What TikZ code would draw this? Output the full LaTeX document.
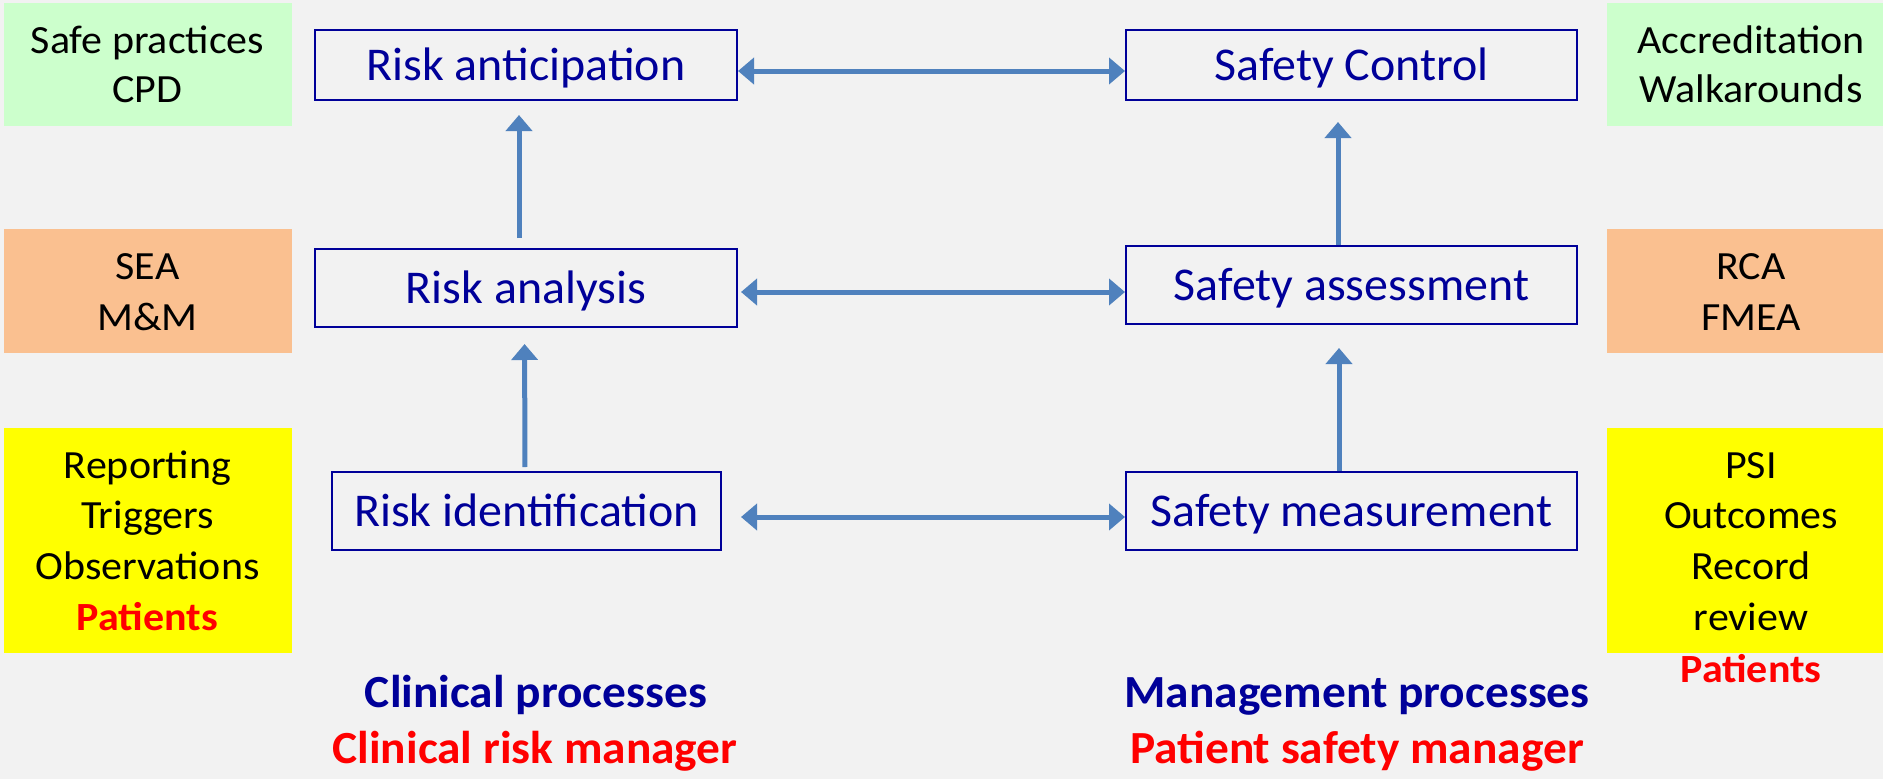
\documentclass[tikz,border=0pt]{standalone}
\usepackage{fontspec}
\setmainfont{Carlito}
\newfontfamily\sidefont[FakeStretch=1.05]{Carlito}
\newfontfamily\stagefont[FakeStretch=1.02]{Carlito}
\newfontfamily\rolefont[FakeStretch=1.03]{Carlito}
\usetikzlibrary{arrows.meta}

\definecolor{pagebg}{HTML}{F2F2F2}
\definecolor{navy}{HTML}{000099}
\definecolor{arrowblue}{HTML}{4F81BD}
\definecolor{mint}{HTML}{CCFFCC}
\definecolor{peach}{HTML}{FAC090}
\definecolor{lemon}{HTML}{FFFF00}
\definecolor{alert}{HTML}{FF0000}

\tikzset{
  stagebox/.style={draw=navy, line width=2pt, text=navy, inner sep=0pt,
    font=\stagefont\fontsize{47}{56}\selectfont, text height=36pt, text depth=6pt},
  sidebox/.style={inner sep=0pt, minimum width=288pt},
  sidetext/.style={anchor=base, inner sep=0pt, font=\sidefont\fontsize{40}{48}\selectfont},
  patients/.style={sidetext, text=alert, font=\sidefont\fontsize{40}{48}\selectfont\bfseries},
  rolehead/.style={anchor=base, inner sep=0pt, text=navy, font=\rolefont\fontsize{46}{55}\selectfont\bfseries},
  rolename/.style={anchor=base, inner sep=0pt, text=alert, font=\rolefont\fontsize{46}{55}\selectfont\bfseries},
  flow/.style={draw=arrowblue, line width=5pt, -{Triangle[length=16pt, width=26pt]}},
  link/.style={draw=arrowblue, line width=5pt, {Triangle[length=16pt, width=26pt]}-{Triangle[length=16pt, width=26pt]}},
}

\begin{document}
\begin{tikzpicture}[x=1pt, y=-1pt]
  \useasboundingbox (0,0) rectangle (1883,779);
  \fill[pagebg] (0,0) rectangle (1883,779);

  % coloured method panels
  \node[sidebox, fill=mint,  minimum height=123pt] (gl) at (147.5,64) {};
  \node[sidebox, fill=peach, minimum height=124pt] (ol) at (147.5,291) {};
  \node[sidebox, fill=lemon, minimum height=225pt] (yl) at (147.5,540.5) {};
  \node[sidebox, fill=mint,  minimum height=123pt] (gr) at (1751,64) {};
  \node[sidebox, fill=peach, minimum height=124pt] (or) at (1751,291) {};
  \node[sidebox, fill=lemon, minimum height=225pt] (yr) at (1751,540.5) {};

  % panel texts
  \node[sidetext] (gl1) at (147.5,53)  {Safe practices};
  \node[sidetext] (gl2) at (147.5,102) {CPD};
  \node[sidetext] (ol1) at (147.5,279) {SEA};
  \node[sidetext] (ol2) at (147.5,330) {M\&M};
  \node[sidetext] (yl1) at (147.5,478) {Reporting};
  \node[sidetext] (yl2) at (147.5,528) {Triggers};
  \node[sidetext] (yl3) at (147.5,579) {Observations};
  \node[patients] (yl4) at (147.5,630) {Patients};

  \node[sidetext] (gr1) at (1751,53)  {Accreditation};
  \node[sidetext] (gr2) at (1751,102) {Walkarounds};
  \node[sidetext] (or1) at (1751,279) {RCA};
  \node[sidetext] (or2) at (1751,330) {FMEA};
  \node[sidetext] (yr1) at (1751,478) {PSI};
  \node[sidetext] (yr2) at (1751,528) {Outcomes};
  \node[sidetext] (yr3) at (1751,579) {Record};
  \node[sidetext] (yr4) at (1751,630) {review};
  \node[patients] (yr5) at (1751,682) {Patients};

  % process stages
  \node[stagebox, minimum width=422pt, minimum height=70pt] (antic)   at (526,65)    {Risk anticipation};
  \node[stagebox, minimum width=422pt, minimum height=78pt] (analysis) at (526,288)  {Risk analysis};
  \node[stagebox, minimum width=389pt, minimum height=78pt] (ident)   at (526.5,511) {Risk identification};
  \node[stagebox, minimum width=451pt, minimum height=70pt] (control) at (1351.5,65)  {Safety Control};
  \node[stagebox, minimum width=451pt, minimum height=78pt] (assess)  at (1351.5,285) {Safety assessment};
  \node[stagebox, minimum width=451pt, minimum height=78pt] (measure) at (1351.5,511) {Safety measurement};

  % links between clinical and management stages
  \draw[link] ([yshift=-6pt]antic.east) -- ([yshift=-6pt]control.west);
  \draw[link, shorten <=3pt] ([yshift=-4pt]analysis.east) -- ([yshift=-7pt]assess.west);
  \draw[link, shorten <=19pt] ([yshift=-6pt]ident.east) -- ([yshift=-6pt]measure.west);

  % upward flow
  \draw[flow, shorten <=10pt, shorten >=14pt] ([xshift=-7pt]analysis.north) -- ([xshift=-7pt]antic.south);
  \draw[flow, shorten <=4pt, shorten >=16pt] ([xshift=-1.5pt]ident.north) -- ([xshift=-1.5pt]analysis.south);
  \draw[flow, shorten >=21pt] ([xshift=-13.5pt]assess.north) -- ([xshift=-13.5pt]control.south);
  \draw[flow, shorten >=23pt] ([xshift=-12.5pt]measure.north) -- ([xshift=-12.5pt]assess.south);

  % process owners
  \node[rolehead] (clinhead) at (536,707)  {Clinical processes};
  \node[rolename] (clinrole) at (535,763)  {Clinical risk manager};
  \node[rolehead] (mgmthead) at (1357,707) {Management processes};
  \node[rolename] (mgmtrole) at (1357,763) {Patient safety manager};
\end{tikzpicture}
\end{document}
